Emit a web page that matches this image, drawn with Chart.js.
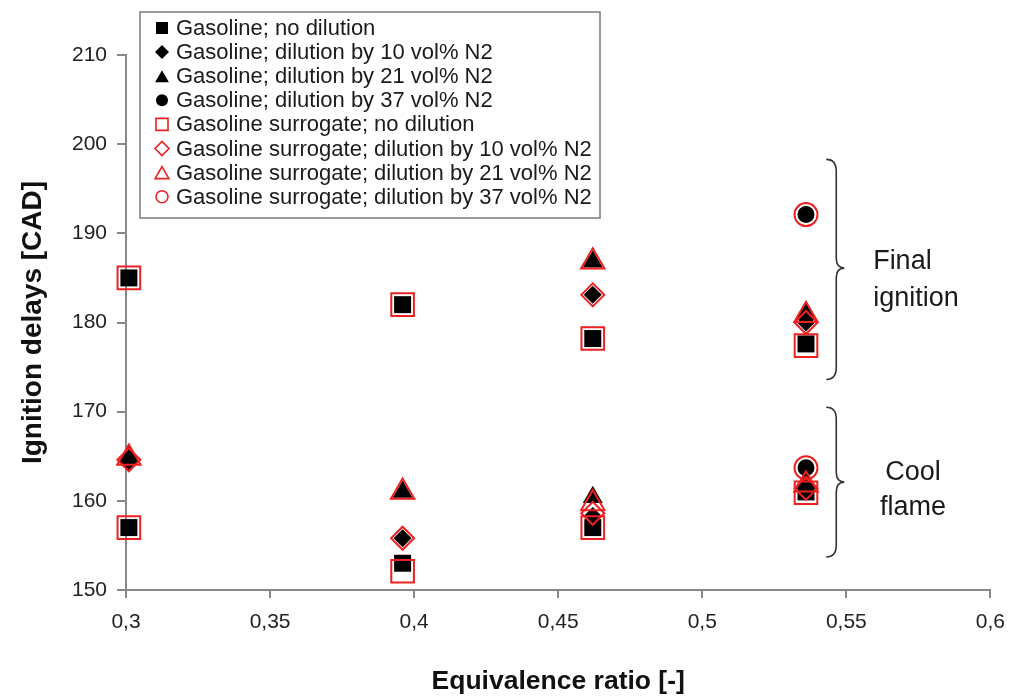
<!DOCTYPE html>
<html>
<head>
<meta charset="UTF-8">
<title>Ignition delays vs equivalence ratio</title>
<script src="https://cdn.jsdelivr.net/npm/chart.js"></script>
<style>
  html, body { margin: 0; padding: 0; background: #fff; }
</style>
</head>
<body>
<canvas id="myChart" width="1017" height="696"></canvas>
<script>
// [equivalence ratio, ignition delay in CAD]; each point gives final ignition and/or cool flame
const gasNoDil    = [[0.301, 185], [0.301, 157], [0.396, 182], [0.396, 153], [0.462, 178.2], [0.462, 157], [0.536, 177.6], [0.536, 161]];
const gasDil10    = [[0.301, 164.4], [0.396, 155.8], [0.462, 183.1], [0.462, 158.3], [0.536, 180], [0.536, 161.4]];
const gasDil21    = [[0.301, 165], [0.396, 161], [0.462, 186.8], [0.462, 160.4], [0.536, 180.9], [0.536, 162]];
const gasDil37    = [[0.536, 192.1], [0.536, 163.7]];
const surNoDil    = [[0.301, 185], [0.301, 157], [0.396, 182], [0.396, 152.1], [0.462, 178.2], [0.462, 157], [0.536, 177.4], [0.536, 160.9]];
const surDil10    = [[0.301, 164.6], [0.396, 155.8], [0.462, 183.1], [0.462, 158.6], [0.536, 180], [0.536, 161.4]];
const surDil21    = [[0.301, 164.8], [0.396, 161], [0.462, 186.8], [0.462, 159.7], [0.536, 180.8], [0.536, 161.8]];
const surDil37    = [[0.536, 192.1], [0.536, 163.7]];

const seriesNames = [
  'Gasoline; no dilution',
  'Gasoline; dilution by 10 vol% N2',
  'Gasoline; dilution by 21 vol% N2',
  'Gasoline; dilution by 37 vol% N2',
  'Gasoline surrogate; no dilution',
  'Gasoline surrogate; dilution by 10 vol% N2',
  'Gasoline surrogate; dilution by 21 vol% N2',
  'Gasoline surrogate; dilution by 37 vol% N2'
];
const xTicks = [0.3, 0.35, 0.4, 0.45, 0.5, 0.55, 0.6];

const RED = 'rgb(238,32,32)';

function pts(list) { return list.map(p => ({ x: p[0], y: p[1] })); }

function filled(label, data, style, r, legR) {
  return { label, data: pts(data), pointStyle: style, pointRadius: r, legendRadius: legR,
    backgroundColor: '#000', borderColor: '#000', borderWidth: 0, showLine: false, order: 1, clip: false };
}
function hollow(label, data, style, r, legR) {
  return { label, data: pts(data), pointStyle: style, pointRadius: r, legendRadius: legR,
    backgroundColor: 'rgba(0,0,0,0)', borderColor: RED, borderWidth: 2, showLine: false, order: 0, clip: false };
}

const datasets = [
  filled(seriesNames[0], gasNoDil, 'rect', 12, 8.5),
  filled(seriesNames[1], gasDil10, 'rectRot', 9, 7),
  filled(seriesNames[2], gasDil21, 'triangle', 11.5, 8),
  filled(seriesNames[3], gasDil37, 'circle', 8.5, 6),
  hollow(seriesNames[4], surNoDil, 'rect', 16, 8.5),
  hollow(seriesNames[5], surDil10, 'rectRot', 11.5, 7),
  hollow(seriesNames[6], surDil21, 'triangle', 13.5, 8),
  hollow(seriesNames[7], surDil37, 'circle', 11.5, 6)
];

// braces on the right, in data units
const braces = [
  { x: 0.5465, top: 198.3, tip: 186.1, bottom: 173.6 },
  { x: 0.5465, top: 170.5, tip: 162.1, bottom: 153.7 }
];
const braceLabels = [
  { x: 0.5593, y: 186.8, text: 'Final', align: 'left' },
  { x: 0.5593, y: 182.7, text: 'ignition', align: 'left' },
  { x: 0.5731, y: 163.2, text: 'Cool', align: 'center' },
  { x: 0.5731, y: 159.3, text: 'flame', align: 'center' }
];

const boxLegend = {
  id: 'boxLegend',
  afterDraw(chart) {
    const ctx = chart.ctx;
    const left = 140, top = 12, right = 600, bottom = 218;
    ctx.save();
    ctx.fillStyle = '#fff';
    ctx.fillRect(left, top, right - left, bottom - top);
    ctx.strokeStyle = '#7a7a7a';
    ctx.lineWidth = 1.5;
    ctx.strokeRect(left, top, right - left, bottom - top);
    ctx.font = '22px "Liberation Sans", Arial, sans-serif';
    ctx.textBaseline = 'middle';
    chart.data.datasets.forEach((ds, i) => {
      const y = 28 + i * 24.1;
      ctx.fillStyle = ds.backgroundColor;
      ctx.strokeStyle = ds.borderColor;
      ctx.lineWidth = ds.borderWidth ? 1.6 : 0;
      Chart.helpers.drawPoint(ctx, { pointStyle: ds.pointStyle, radius: ds.legendRadius, rotation: 0,
        borderWidth: ds.borderWidth ? 1.6 : 0 }, 162, ds.pointStyle === 'triangle' ? y + 2 : y);
      ctx.fillStyle = '#1a1a1a';
      ctx.fillText(ds.label, 176, y + 1);
    });
    ctx.restore();
  }
};

const braceNotes = {
  id: 'braceNotes',
  afterDraw(chart) {
    const ctx = chart.ctx, xs = chart.scales.x, ys = chart.scales.y;
    ctx.save();
    ctx.strokeStyle = '#333';
    ctx.lineWidth = 1.6;
    braces.forEach(b => {
      const x = xs.getPixelForValue(b.x);
      const t = ys.getPixelForValue(b.top), m = ys.getPixelForValue(b.tip), e = ys.getPixelForValue(b.bottom);
      ctx.beginPath();
      ctx.moveTo(x - 10, t);
      ctx.quadraticCurveTo(x, t, x, t + 12);
      ctx.lineTo(x, m - 10);
      ctx.quadraticCurveTo(x, m, x + 8, m);
      ctx.quadraticCurveTo(x, m, x, m + 10);
      ctx.lineTo(x, e - 12);
      ctx.quadraticCurveTo(x, e, x - 10, e);
      ctx.stroke();
    });
    ctx.fillStyle = '#1a1a1a';
    ctx.font = '27px "Liberation Sans", Arial, sans-serif';
    ctx.textBaseline = 'middle';
    braceLabels.forEach(l => {
      ctx.textAlign = l.align;
      ctx.fillText(l.text, xs.getPixelForValue(l.x), ys.getPixelForValue(l.y));
    });
    ctx.restore();
  }
};

const comma = v => String(Math.round(v * 100) / 100).replace('.', ',');

Chart.defaults.font.family = '"Liberation Sans", Arial, sans-serif';

new Chart(document.getElementById('myChart'), {
  type: 'scatter',
  data: { datasets },
  options: {
    responsive: false,
    animation: false,
    devicePixelRatio: 1,
    layout: { padding: { left: 0, right: 23, top: 55, bottom: 0 } },
    plugins: { legend: { display: false }, tooltip: { enabled: false } },
    scales: {
      x: {
        type: 'linear', min: 0.3, max: 0.6,
        afterFit(s) { s.height = 106; },
        afterBuildTicks(s) { s.ticks = xTicks.map(v => ({ value: v })); },
        border: { color: '#888', width: 2 },
        grid: { drawOnChartArea: false, tickLength: 8, color: '#888', lineWidth: 2 },
        ticks: { padding: 12, color: '#222', font: { size: 21 }, callback: comma },
        title: { display: true, text: 'Equivalence ratio [-]', color: '#111',
          font: { size: 26.5, weight: 'bold' }, padding: { top: 0, bottom: -2 } }
      },
      y: {
        min: 150, max: 210,
        afterFit(s) { s.width = 126; },
        border: { color: '#888', width: 2 },
        grid: { drawOnChartArea: false, tickLength: 9, color: '#888', lineWidth: 2 },
        ticks: { stepSize: 10, padding: 10, color: '#222', font: { size: 21 } },
        title: { display: true, text: 'Ignition delays [CAD]', color: '#111',
          font: { size: 28, weight: 'bold' }, padding: { top: 16, bottom: 0 } }
      }
    }
  },
  plugins: [braceNotes, boxLegend]
});
</script>
</body>
</html>
